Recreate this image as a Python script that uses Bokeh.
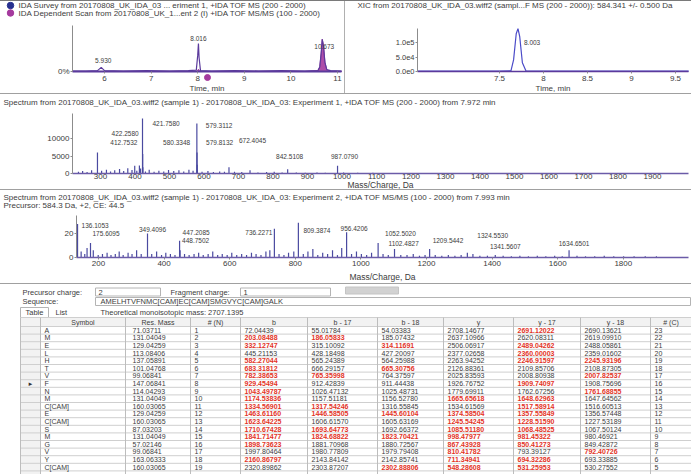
from bokeh.plotting import figure
from bokeh.models import (Range1d, FixedTicker, ColumnDataSource, LabelSet, Spacer)
from bokeh.layouts import column, row
from bokeh.core.properties import value, field
from bokeh.embed import file_html
from bokeh.resources import INLINE

try:
    from bokeh.models import GlobalInlineStyleSheet
    PAGE_SHEETS = [GlobalInlineStyleSheet(css="html, body { margin: 0; padding: 0; overflow: hidden; }")]
except Exception:
    PAGE_SHEETS = []

FONT = "Liberation Sans"
TXT = "#3c3c3c"
SURVEY = "#27308f"
DEPEND = "#a53a9e"
TRACE = "#5b3a9c"
XICBLUE = "#4b4bc8"
SPEC = "#4a4aa0"
BASE = "#6b5ba8"
RED = "#e3331f"

# ---------------- data: TIC (top left) ----------------
tic_legend = ["IDA Survey from 20170808_UK_IDA_03 ... eriment 1, +IDA TOF MS (200 - 2000)",
              "IDA Dependent Scan from 20170808_UK_1...ent 2 (I) +IDA TOF MS/MS (100 - 2000)"]
tic_time = [5.31, 5.60, 5.85, 5.93, 6.00, 6.40, 6.90, 7.40, 7.80, 7.97, 8.00, 8.016, 8.03, 8.06,
            8.30, 8.80, 9.30, 9.80, 10.30, 10.58, 10.62, 10.65, 10.673, 10.70, 10.73, 10.77, 10.85, 11.09]
tic_survey = [0.01, 0.01, 0.02, 0.09, 0.02, 0.01, 0.02, 0.01, 0.02, 0.03, 0.35, 0.61, 0.30, 0.02,
              0.01, 0.02, 0.01, 0.02, 0.01, 0.02, 0.10, 0.40, 0.70, 0.55, 0.20, 0.04, 0.02, 0.01]
tic_dependent = [0, 0, 0, 0, 0, 0, 0, 0, 0, 0, 0.02, 0.05, 0.02, 0,
                 0, 0, 0, 0, 0, 0.02, 0.10, 0.40, 0.70, 0.55, 0.20, 0.04, 0, 0]
tic_peak_time = [5.930, 8.016, 10.673]
tic_peak_int = [0.09, 0.61, 0.70]
tic_peak_text = ["5.930", "8.016", "10.673"]
dep_scan_time = [8.21]
tic_ticks = [6, 7, 8, 9, 10, 11]

# ---------------- data: XIC (top right) ----------------
xic_title = "XIC from 20170808_UK_IDA_03.wiff2 (sampl...F MS (200 - 2000)): 584.341 +/- 0.500 Da"
xic_time = [6.57, 6.90, 7.20, 7.50, 7.63, 7.66, 7.69, 7.71, 7.73, 7.76, 7.80, 8.10, 8.50, 9.00, 9.40, 9.65]
xic_int = [1500, 1300, 1600, 1400, 2000, 40000, 130000, 148000, 120000, 30000, 2500, 1500, 1300, 1400, 1200, 1300]
xic_peak_time = [7.71]
xic_peak_int = [148000]
xic_peak_text = ["8.003"]
xic_xticks = [7.5, 8.0, 8.5, 9.0, 9.5]
xic_yticks = [0, 50000, 100000]
xic_ylabels = ["0.0e0", "5.0e4", "1.0e5"]

# ---------------- data: MS spectrum (experiment 1) ----------------
ms1_title = ("Spectrum from 20170808_UK_IDA_03.wiff2 (sample 1) - 20170808_UK_IDA_03: "
             "Experiment 1, +IDA TOF MS (200 - 2000) from 7.972 min")
ms1_mz = [236.1, 248.2, 261.1, 274.2, 291.2, 303.2, 317.2, 329.1, 341.2, 355.2,
          367.2, 379.1, 391.3, 399.2, 405.2, 412.7532, 416.2, 421.7580, 422.2580, 422.7590,
          430.3, 441.2, 455.3, 469.2, 483.3, 497.2, 512.3, 527.3, 541.3, 556.3,
          568.3, 579.3112, 579.8132, 580.3348, 580.8, 594.3, 611.4, 627.3, 645.4, 659.3,
          672.4045, 688.4, 709.4, 733.4, 756.4, 781.4, 803.5, 826.4, 842.5108, 867.5,
          893.5, 927.5, 951.5, 987.0790, 1004.6, 1045.6, 1089.6, 1137.6, 1202.6, 1268.7,
          1343.7, 1427.7, 1512.8, 1604.8, 1711.9, 1822.9, 1934.0]
ms1_int = [500, 700, 400, 900, 6000, 800, 1100, 600, 900, 1300,
           700, 1500, 1000, 2200, 800, 2300, 1400, 15700, 5600, 1800,
           600, 1100, 500, 800, 600, 1000, 700, 900, 600, 1100,
           800, 14300, 6000, 2500, 900, 500, 700, 400, 600, 500,
           1800, 500, 400, 900, 300, 400, 500, 300, 1200, 300,
           200, 300, 200, 2200, 300, 200, 200, 150, 150, 120,
           100, 100, 100, 80, 80, 80, 60]
ms1_label_mz = [421.7580, 422.2580, 412.7532, 579.3112, 579.8132, 580.3348, 672.4045, 842.5108, 987.0790]
ms1_label_text = ["421.7580", "422.2580", "412.7532", "579.3112", "579.8132", "580.3348",
                  "672.4045", "842.5108", "987.0790"]
ms1_xticks = [300, 400, 500, 600, 700, 800, 900, 1000, 1100, 1200, 1300, 1400, 1500, 1600, 1700, 1800, 1900]
ms1_yticks = [0, 5000, 10000]

# ---------------- data: MS/MS spectrum (experiment 2) ----------------
ms2_title = ("Spectrum from 20170808_UK_IDA_03.wiff2 (sample 1) - 20170808_UK_IDA_03: "
             "Experiment 2, +IDA TOF MS/MS (100 - 2000) from 7.993 min")
ms2_subtitle = "Precursor: 584.3 Da, +2, CE: 44.5"
ms2_mz = [136.1053, 147.1, 158.1, 165.1, 175.6095, 184.1, 199.1, 212.1, 226.2, 238.1,
          251.2, 263.1, 275.2, 290.2, 302.2, 316.2, 330.2, 349.4096, 362.2, 377.2,
          392.2, 405.2, 419.2, 433.2, 447.2085, 448.7502, 462.3, 476.3, 491.3, 505.3,
          519.3, 534.3, 548.3, 563.3, 577.3, 592.3, 606.3, 621.4, 636.4, 651.4,
          666.4, 680.4, 695.4, 710.4, 722.4, 736.2271, 750.4, 765.4, 779.4, 795.4,
          809.3874, 824.4, 838.5, 853.5, 868.5, 883.5, 898.5, 913.5, 928.5, 941.5,
          956.4206, 971.5, 986.5, 1001.5, 1017.5, 1032.5, 1052.5020, 1067.5, 1083.5, 1102.4827,
          1121.6, 1140.6, 1159.6, 1178.6, 1195.6, 1209.5442, 1226.6, 1246.6, 1266.6, 1286.6,
          1305.6, 1324.5530, 1341.5607, 1362.7, 1385.7, 1409.7, 1433.7, 1458.7, 1484.7, 1510.7,
          1537.8, 1563.8, 1590.8, 1613.8, 1634.6501, 1658.8, 1684.8, 1712.8, 1741.9, 1770.9,
          1800.9, 1832.9, 1866.9, 1901.0]
ms2_int = [28, 5, 3, 8, 12, 6, 2, 3, 4, 2,
           3, 5, 2, 4, 3, 6, 3, 20, 3, 5,
           2, 4, 3, 2, 14, 6, 3, 2, 3, 4,
           2, 3, 5, 2, 3, 2, 4, 2, 3, 2,
           4, 3, 2, 5, 6, 24, 3, 2, 4, 5,
           29, 3, 5, 7, 2, 4, 3, 6, 2, 8,
           21, 3, 5, 3, 2, 4, 12, 3, 2, 7,
           2, 2, 3, 1.5, 2, 7, 2, 1.5, 2, 1.5,
           2, 4, 3, 1.5, 1.5, 2, 1.5, 1, 1.5, 1,
           1.5, 1, 1.5, 1, 6, 1.5, 1, 1, 1.5, 1,
           1, 1, 1, 1]
ms2_label_mz = [136.1053, 175.6095, 349.4096, 447.2085, 448.7502, 736.2271, 809.3874, 956.4206,
                1052.5020, 1102.4827, 1209.5442, 1324.5530, 1341.5607, 1634.6501]
ms2_label_text = ["136.1053", "175.6095", "349.4096", "447.2085", "448.7502", "736.2271", "809.3874",
                  "956.4206", "1052.5020", "1102.4827", "1209.5442", "1324.5530", "1341.5607", "1634.6501"]
ms2_xticks = [200, 400, 600, 800, 1000, 1200, 1400, 1600, 1800]
ms2_yticks = [0, 20]

# ---------------- data: fragment table ----------------
precursor_charge = "2"
fragment_charge = "1"
residue_symbols = ["A", "M", "E", "L", "H", "T", "V", "F", "N", "M", "C[CAM]", "E", "C[CAM]", "S",
                   "M", "G", "V", "Y", "C[CAM]", "G", "A", "L", "K"]
residue_mass = [71.03711, 131.04049, 129.04259, 113.08406, 137.05891, 101.04768, 99.06841, 147.06841,
                114.04293, 131.04049, 160.03065, 129.04259, 160.03065, 87.03203, 131.04049, 57.02146,
                99.06841, 163.06333, 160.03065, 57.02146, 71.03711, 113.08406, 128.09496]
theoretical_mass = "2707.1395"
n_index = [1, 2, 3, 4, 5, 6, 7, 8, 9, 10, 11, 12, 13, 14, 15, 16, 17, 18, 19]
c_index = [23, 22, 21, 20, 19, 18, 17, 16, 15, 14, 13, 12, 11, 10, 9, 8, 7, 6, 5]
b_ions = [72.04439, 203.08488, 332.12747, 445.21153, 582.27044, 683.31812, 782.38653, 929.45494,
          1043.49787, 1174.53836, 1334.56901, 1463.61160, 1623.64225, 1710.67428, 1841.71477,
          1898.73623, 1997.80464, 2160.86797, 2320.89862]
b_17 = [55.01784, 186.05833, 315.10092, 428.18498, 565.24389, 666.29157, 765.35998, 912.42839,
        1026.47132, 1157.51181, 1317.54246, 1446.58505, 1606.61570, 1693.64773, 1824.68822,
        1881.70968, 1980.77809, 2143.84142, 2303.87207]
b_18 = [54.03383, 185.07432, 314.11691, 427.20097, 564.25988, 665.30756, 764.37597, 911.44438,
        1025.48731, 1156.52780, 1316.55845, 1445.60104, 1605.63169, 1692.66372, 1823.70421,
        1880.72567, 1979.79408, 2142.85741, 2302.88806]
y_ions = [2708.14677, 2637.10966, 2506.06917, 2377.02658, 2263.94252, 2126.88361, 2025.83593,
          1926.76752, 1779.69911, 1665.65618, 1534.61569, 1374.58504, 1245.54245, 1085.51180,
          998.47977, 867.43928, 810.41782, 711.34941, 548.28608]
y_17 = [2691.12022, 2620.08311, 2489.04262, 2360.00003, 2246.91597, 2109.85706, 2008.80938,
        1909.74097, 1762.67256, 1648.62963, 1517.58914, 1357.55849, 1228.51590, 1068.48525,
        981.45322, 850.41273, 793.39127, 694.32286, 531.25953]
y_18 = [2690.13621, 2619.09910, 2488.05861, 2359.01602, 2245.93196, 2108.87305, 2007.82537,
        1908.75696, 1761.68855, 1647.64562, 1516.60513, 1356.57448, 1227.53189, 1067.50124,
        980.46921, 849.42872, 792.40726, 693.33885, 530.27552]
b_match = [0, 1, 1, 0, 1, 1, 1, 1, 1, 1, 1, 1, 1, 1, 1, 1, 0, 1, 0]
b17_match = [0, 1, 0, 0, 0, 0, 1, 0, 0, 0, 1, 1, 0, 1, 1, 0, 0, 0, 0]
b18_match = [0, 0, 1, 0, 0, 1, 0, 0, 0, 0, 0, 1, 0, 0, 1, 0, 0, 0, 1]
y_match = [0, 0, 0, 0, 0, 0, 0, 0, 0, 1, 0, 1, 1, 1, 1, 1, 1, 1, 1]
y17_match = [1, 0, 1, 1, 1, 0, 0, 1, 0, 1, 1, 1, 1, 1, 1, 1, 0, 1, 1]
y18_match = [0, 0, 0, 0, 1, 0, 1, 0, 1, 0, 0, 0, 0, 0, 0, 0, 1, 0, 0]
selected_row = 8
table_headers = ["Symbol", "Res. Mass", "# (N)", "b", "b - 17", "b - 18", "y", "y - 17", "y - 18", "# (C)"]


# ---------------- helpers ----------------
class Panel:
    """Pixel layout of one panel: the frame fills the whole canvas, axes are pinned inside it."""

    def __init__(self, w, h, x_ref, px_ref, sx, base_py, sy):
        self.w, self.h = w, h
        self.x_ref, self.px_ref, self.sx = x_ref, px_ref, sx
        self.base_py, self.sy = base_py, sy

    def fx(self, px):
        return self.x_ref + (px - self.px_ref) / self.sx

    def fy(self, py):
        return (self.base_py - py) / self.sy

    def figure(self, axes=True):
        kw = {} if axes else dict(x_axis_location=None, y_axis_location=None)
        p = figure(width=self.w, height=self.h,
                   x_range=Range1d(self.fx(0), self.fx(self.w)),
                   y_range=Range1d(self.fy(self.h), self.fy(0)),
                   output_backend="svg", toolbar_location=None, min_border=0,
                   background_fill_color="white", border_fill_color="white", **kw)
        p.xgrid.visible = False
        p.ygrid.visible = False
        p.outline_line_color = None
        return p


def style_axis(ax, tick_px, label_px, line_color="#8c8c8c", line_width=1,
               tick_out=2, label_standoff=1, axis_standoff=2):
    ax.major_label_text_font = FONT
    ax.major_label_text_font_size = tick_px
    ax.major_label_text_color = TXT
    ax.axis_label_text_font = FONT
    ax.axis_label_text_font_size = label_px
    ax.axis_label_text_font_style = "normal"
    ax.axis_label_text_color = TXT
    ax.minor_tick_line_color = None
    ax.major_tick_in = 0
    ax.major_tick_out = tick_out
    ax.major_tick_line_color = "#8c8c8c"
    ax.axis_line_color = line_color
    ax.axis_line_width = line_width
    ax.major_label_standoff = label_standoff
    ax.axis_label_standoff = axis_standoff


def pin_axes(p, pan, x_px, y_px):
    """Pin the x axis on the baseline and the y axis at the left edge of the plot area."""
    p.xaxis.fixed_location = 0
    p.xaxis.bounds = (pan.fx(x_px[0]), pan.fx(x_px[1]))
    p.yaxis.fixed_location = pan.fx(x_px[0])
    p.yaxis.bounds = (0, pan.fy(y_px))


def add_title(p, pan, lines, px, pys, size="8px"):
    p.text(x=[pan.fx(px)] * len(lines), y=[pan.fy(py) for py in pys], text=lines,
           text_font=value(FONT), text_font_size=value(size), text_color=TXT,
           text_baseline="middle", text_align="left")


def add_labels(p, xs, ys, texts, dxs, dys, aligns, size="6.5px", color=TXT):
    src = ColumnDataSource(dict(x=xs, y=ys, t=texts, dx=dxs, dy=dys, al=aligns))
    p.add_layout(LabelSet(x="x", y="y", text="t", x_offset="dx", y_offset="dy",
                          text_align=field("al"), text_baseline="middle",
                          text_font=value(FONT), text_font_size=size,
                          text_color=color, source=src))


# ---------------- TIC ----------------
tic = Panel(344, 92, 6.0, 104, 46.6, 70, 46)
p_tic = tic.figure()
p_tic.varea(x=tic_time, y1=0, y2=tic_dependent, fill_color=DEPEND, fill_alpha=0.9)
p_tic.line(tic_time, tic_dependent, line_color=DEPEND, line_width=1)
p_tic.line(tic_time, tic_survey, line_color=TRACE, line_width=1.2)
style_axis(p_tic.xaxis[0], "8px", "8px", line_color=TRACE, line_width=2,
           label_standoff=2, axis_standoff=0)
style_axis(p_tic.yaxis[0], "8px", "8px")
pin_axes(p_tic, tic, (72, 341), 24)
p_tic.yaxis.bounds = (0, 1.0)
p_tic.xaxis.ticker = FixedTicker(ticks=tic_ticks)
p_tic.xaxis.axis_label = "Time, min"
p_tic.yaxis.ticker = FixedTicker(ticks=[0])
p_tic.yaxis.major_label_overrides = {0: "0%"}
add_labels(p_tic, tic_peak_time, tic_peak_int, tic_peak_text,
           [2, 0, 2], [7, 5, -7], ["center", "center", "center"])
p_tic.scatter(x=dep_scan_time, y=[tic.fy(76)] * len(dep_scan_time), marker="circle", size=6,
              fill_color=DEPEND, line_color=DEPEND)
# legend
leg_y = [tic.fy(4), tic.fy(11.5)]
p_tic.scatter(x=[tic.fx(10)] * 2, y=leg_y, marker="circle", size=6.5,
              fill_color=[SURVEY, DEPEND], line_color=[SURVEY, DEPEND])
p_tic.text(x=[tic.fx(18)] * 2, y=leg_y, text=tic_legend, text_font=value(FONT),
           text_font_size=value("8px"), text_color=TXT, text_baseline="middle", text_align="left")

# ---------------- XIC ----------------
xic = Panel(346, 92, 7.5, 154, 88, 70, 2.9e-4)
p_xic = xic.figure()
p_xic.line(xic_time, xic_int, line_color=XICBLUE, line_width=1.2)
style_axis(p_xic.xaxis[0], "8px", "8px", line_color=TRACE, line_width=1.5,
           label_standoff=2, axis_standoff=0)
style_axis(p_xic.yaxis[0], "7.5px", "8px")
pin_axes(p_xic, xic, (72, 343), 27)
p_xic.xaxis.ticker = FixedTicker(ticks=xic_xticks)
p_xic.xaxis.axis_label = "Time, min"
p_xic.yaxis.ticker = FixedTicker(ticks=xic_yticks)
p_xic.yaxis.major_label_overrides = {t: s for t, s in zip(xic_yticks, xic_ylabels)}
add_title(p_xic, xic, [xic_title], 12, [4])
add_labels(p_xic, xic_peak_time, xic_peak_int, xic_peak_text, [6], [-14], ["left"])

# ---------------- MS1 ----------------
ms1 = Panel(691, 95, 300, 100, 0.345, 79, 0.0035)
p_ms1 = ms1.figure()
p_ms1.segment(x0=ms1_mz, y0=0, x1=ms1_mz, y1=ms1_int, line_color=SPEC, line_width=1.2)
style_axis(p_ms1.xaxis[0], "8px", "8.5px", line_color=BASE, line_width=1.5,
           tick_out=0, label_standoff=0, axis_standoff=-2)
style_axis(p_ms1.yaxis[0], "8px", "8px")
pin_axes(p_ms1, ms1, (72, 688), 19)
p_ms1.xaxis.ticker = FixedTicker(ticks=ms1_xticks)
p_ms1.xaxis.axis_label = "Mass/Charge, Da"
p_ms1.yaxis.ticker = FixedTicker(ticks=ms1_yticks)
add_title(p_ms1, ms1, [ms1_title], 3, [8])
ms1_lab_int = [ms1_int[ms1_mz.index(m)] for m in ms1_label_mz]
add_labels(p_ms1, ms1_label_mz, ms1_lab_int, ms1_label_text,
           [10, -4, -2, 9, 9, -7, 10, 2, 7],
           [-5, 20, 23, -2, 10, 22, 27, 13, 9],
           ["left", "right", "right", "left", "left", "right", "left", "center", "center"])

# ---------------- MS2 ----------------
ms2 = Panel(691, 93, 200, 98, 0.328, 67, 1.2)
p_ms2 = ms2.figure()
p_ms2.segment(x0=ms2_mz, y0=0, x1=ms2_mz, y1=ms2_int, line_color=SPEC, line_width=1.2)
style_axis(p_ms2.xaxis[0], "8px", "8.5px", line_color=BASE, line_width=1.5, axis_standoff=3)
style_axis(p_ms2.yaxis[0], "8px", "8px")
pin_axes(p_ms2, ms2, (76, 688), 25)
p_ms2.xaxis.ticker = FixedTicker(ticks=ms2_xticks)
p_ms2.xaxis.axis_label = "Mass/Charge, Da"
p_ms2.yaxis.ticker = FixedTicker(ticks=ms2_yticks)
add_title(p_ms2, ms2, [ms2_title, ms2_subtitle], 3, [6.5, 15])
ms2_lab_int = [ms2_int[ms2_mz.index(m)] for m in ms2_label_mz]
add_labels(p_ms2, ms2_label_mz, ms2_lab_int, ms2_label_text,
           [4, 2, 5, 3, 2, -2, 5, -6, 7, -6, 3, 10, 17, 5],
           [-2, 10, 4, 8, 10, -4, -8, 4, 10, 6, 9, 17, 7, 7],
           ["left", "left", "center", "left", "left", "right", "left", "left", "left",
            "left", "left", "left", "left", "center"])

# ---------------- fragment table ----------------
COL = [20, 40, 125, 190, 240, 307, 377, 443, 513, 580, 650, 691]
HEAD_TOP, HEAD_BOT, ROW_H = 33, 42, 7.6
GRID = "#cfcfcf"
p_tab = figure(width=691, height=190, x_range=Range1d(0, 691), y_range=Range1d(190, 0),
               x_axis_location=None, y_axis_location=None, min_border=0,
               output_backend="svg", toolbar_location=None,
               background_fill_color="white", border_fill_color="white")
p_tab.xgrid.visible = False
p_tab.ygrid.visible = False
p_tab.outline_line_color = None

p_tab.quad(left=[95, 240, 95], right=[160, 330, 690], top=[3.5, 3.5, 13], bottom=[11.5, 11.5, 21],
           fill_color="white", line_color="#b4b4b4", line_width=1)
p_tab.quad(left=[345], right=[398], top=[2.5], bottom=[9.5], fill_color="#d2d2d2", line_color="#c4c4c4")
p_tab.quad(left=[20], right=[48], top=[23], bottom=[33], fill_color="white", line_color="#b4b4b4")
p_tab.quad(left=[COL[0], COL[0]], right=[COL[-1], COL[1]], top=[HEAD_TOP, HEAD_BOT], bottom=[HEAD_BOT, 190],
           fill_color="#f2f2f2", line_color=None)

n = len(b_ions)
row_lines = [HEAD_TOP] + [HEAD_BOT + ROW_H * k for k in range(n + 1)]
p_tab.segment(x0=[COL[0]] * len(row_lines), y0=row_lines, x1=[COL[-1]] * len(row_lines), y1=row_lines,
              line_color=GRID, line_width=1)
p_tab.segment(x0=COL[:-1], y0=[HEAD_TOP] * (len(COL) - 1), x1=COL[:-1], y1=[190] * (len(COL) - 1),
              line_color="#bdbdbd", line_width=1)

form_x = [22, 98, 170, 243, 22, 100, 25, 55, 100]
form_y = [7.5, 7.5, 7.5, 7.5, 17, 17, 28, 28, 28]
form_t = ["Precursor charge:", precursor_charge, "Fragment charge:", fragment_charge, "Sequence:",
          "".join(residue_symbols), "Table", "List", "Theoretical monoisotopic mass: " + theoretical_mass]
p_tab.text(x=form_x, y=form_y, text=form_t, text_font=value(FONT), text_font_size=value("7.5px"),
           text_color=TXT, text_baseline="middle", text_align="left")

hx = [(COL[k + 1] + COL[k + 2]) / 2 for k in range(len(table_headers))]
p_tab.text(x=hx, y=[(HEAD_TOP + HEAD_BOT) / 2] * len(hx), text=table_headers, text_font=value(FONT),
           text_font_size=value("7px"), text_color=TXT, text_baseline="middle", text_align="center")

columns = [
    (residue_symbols[:n], [0] * n),
    (["%.5f" % m for m in residue_mass[:n]], [0] * n),
    ([str(i) for i in n_index], [0] * n),
    (["%.5f" % v for v in b_ions], b_match),
    (["%.5f" % v for v in b_17], b17_match),
    (["%.5f" % v for v in b_18], b18_match),
    (["%.5f" % v for v in y_ions], y_match),
    (["%.5f" % v for v in y_17], y17_match),
    (["%.5f" % v for v in y_18], y18_match),
    ([str(i) for i in c_index], [0] * n),
]
cx, cy, ct, cc, cs = [], [], [], [], []
for k, (texts, flags) in enumerate(columns):
    left = COL[k + 1] + (7 if k == 1 else 4)
    for i in range(n):
        cx.append(left)
        cy.append(HEAD_BOT + ROW_H * (i + 0.5))
        ct.append(texts[i])
        cc.append(RED if flags[i] else TXT)
        cs.append("bold" if flags[i] else "normal")
cell_src = ColumnDataSource(dict(x=cx, y=cy, t=ct, c=cc, s=cs))
p_tab.text(x="x", y="y", text="t", text_color=field("c"), text_font_style=field("s"),
           text_font=value(FONT), text_font_size=value("7px"), text_baseline="middle",
           text_align="left", source=cell_src)
p_tab.text(x=[(COL[0] + COL[1]) / 2], y=[HEAD_BOT + ROW_H * (selected_row - 0.5)], text=["\u25ba"],
           text_font=value(FONT), text_font_size=value("6px"), text_color="#333333",
           text_baseline="middle", text_align="center")


# ---------------- layout ----------------
def hline(color="#a0a0a0"):
    return Spacer(width=691, height=1, styles={"background-color": color})


top_row = row(p_tic, Spacer(width=1, height=92, styles={"background-color": "#b0b0b0"}), p_xic)
page = column(hline("#7a7a7a"), top_row, hline(), p_ms1, hline(), p_ms2, hline(), p_tab,
              stylesheets=PAGE_SHEETS)

open("out.html", "w").write(file_html(page, INLINE))
